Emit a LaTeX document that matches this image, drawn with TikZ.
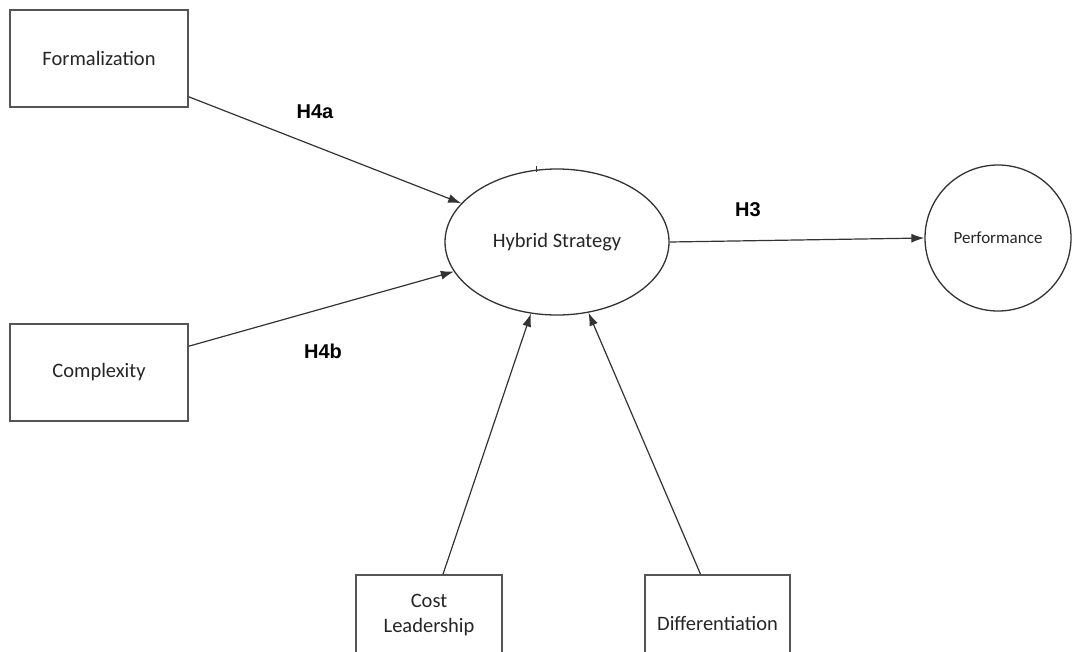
\documentclass[tikz,border=0pt]{standalone}
\usepackage{fontspec}
\setmainfont{Carlito}
\newfontfamily\hypfont{Liberation Sans}
\usetikzlibrary{shapes.geometric,arrows.meta}
\definecolor{edgegray}{HTML}{333333}
\definecolor{boxgray}{HTML}{555555}
\begin{document}
\begin{tikzpicture}[x=1pt,y=-1pt,
  box/.style={draw=boxgray,line width=1.6pt,fill=white,inner sep=0pt,font=\fontsize{20.5}{25}\selectfont,text=black!85},
  conn/.style={draw=edgegray,line width=1.2pt,-{Latex[length=13pt,width=9pt]}},
  hyp/.style={font=\hypfont\bfseries\fontsize{20}{22}\selectfont}]
\useasboundingbox (0,0) rectangle (1075,651);
\clip (0,0) rectangle (1075,651);
% constructs
\node[box,rectangle,minimum width=178pt,minimum height=97pt] (form) at (99,58.5) {Formalization};
\node[box,rectangle,minimum width=178pt,minimum height=97pt] (comp) at (99,372.5) {Complexity};
\node[box,ellipse,minimum width=224pt,minimum height=146pt,line width=1.3pt,draw=edgegray] (hyb) at (557,242) {Hybrid Strategy};
\node[box,circle,minimum size=146pt,line width=1.3pt,draw=edgegray,font=\fontsize{17}{20}\selectfont] (perf) at (998,238) {Performance};
\node[box,rectangle,minimum width=146pt,minimum height=80pt,align=center] (cost) at (429,615) {Cost\\Leadership};
\node[box,rectangle,minimum width=145pt,minimum height=96pt] (diff) at (717.5,623) {Differentiation};
% paths
\draw[conn] ([yshift=11pt]form.south east) -- (hyb.158);
\draw[conn] ([yshift=-23pt]comp.north east) -- (hyb.196);
\draw[conn] (hyb.east) -- (perf.west);
\draw[conn] ([xshift=14pt]cost.north) -- (hyb.250);
\draw[conn] ([xshift=-17pt]diff.north) -- (hyb.294);
% small stroke across the top of the ellipse
\draw[edgegray,line width=1pt] ([xshift=-21pt,yshift=2pt]hyb.north) -- ++(0,6);
% hypothesis labels
\node[hyp] (h4a) at (315,112) {H4a};
\node[hyp] (h4b) at (323,351) {H4b};
\node[hyp] (h3) at (748,210) {H3};
\end{tikzpicture}
\end{document}
